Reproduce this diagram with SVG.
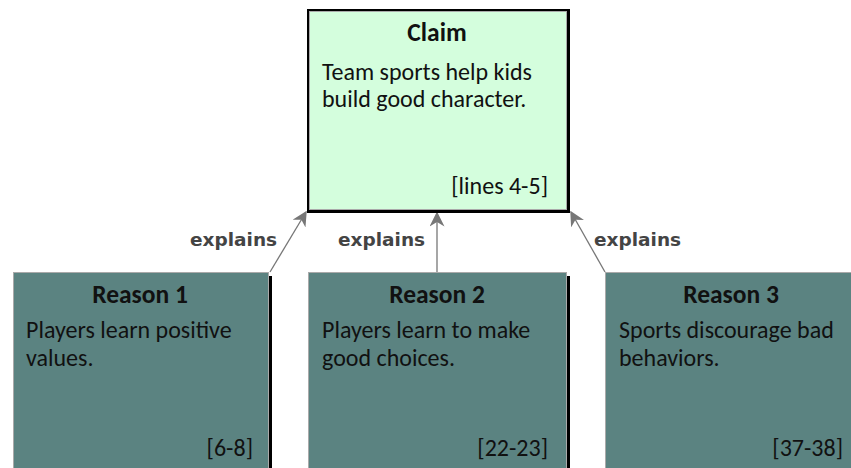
<svg xmlns="http://www.w3.org/2000/svg" width="851" height="468" viewBox="0 0 851 468">
<style>
.box{stroke:#aaa;stroke-width:1}
.shadow{fill:#000}
.claim{fill:#d4fedd}
.reason{fill:#5b8381}
.t{font-family:Calibri,Carlito,"Open Sans","Noto Sans",sans-serif;font-size:24px;fill:#111}
.h{font-weight:bold;text-anchor:middle;font-size:25.5px}
.r{text-anchor:end}
.lbl{font-family:Tahoma,"DejaVu Sans",sans-serif;font-size:18.5px;fill:#444;font-weight:bold}
.conn{stroke:#777;stroke-width:1.3;fill:none}
</style>
<defs>
<marker id="ah" viewBox="0 0 10 10" refX="9" refY="5" markerWidth="15" markerHeight="15" markerUnits="userSpaceOnUse" orient="auto">
<path d="M0,0 L10,5 L0,10 L3,5 Z" fill="#777"/>
</marker>
</defs>
<g id="connectors">
<line class="conn" x1="270" y1="272" x2="306" y2="212" marker-end="url(#ah)"/>
<line class="conn" x1="437" y1="272" x2="437" y2="213" marker-end="url(#ah)"/>
<line class="conn" x1="605" y1="272" x2="571" y2="212" marker-end="url(#ah)"/>
<text class="lbl" x="190" y="246">explains</text>
<text class="lbl" x="338" y="246">explains</text>
<text class="lbl" x="594" y="246">explains</text>
</g>
<g id="claim">
<rect class="shadow" x="307" y="9" width="263" height="204"/>
<rect class="box claim" x="309.5" y="11.5" width="257" height="198"/>
<text class="t h" x="437" y="41">Claim</text>
<text class="t" x="322" y="80">Team sports help kids</text>
<text class="t" x="322" y="107">build good character.</text>
<text class="t r" x="548" y="194">[lines 4-5]</text>
</g>
<g id="reason1">
<rect class="shadow" x="16" y="276" width="256" height="200"/>
<rect class="box reason" x="13.5" y="272.5" width="255" height="200"/>
<text class="t h" x="140" y="303">Reason 1</text>
<text class="t" x="26" y="338">Players learn positive</text>
<text class="t" x="26" y="366">values.</text>
<text class="t r" x="253" y="456">[6-8]</text>
</g>
<g id="reason2">
<rect class="shadow" x="311" y="276" width="259" height="200"/>
<rect class="box reason" x="308.5" y="272.5" width="258" height="200"/>
<text class="t h" x="437" y="303">Reason 2</text>
<text class="t" x="322" y="338">Players learn to make</text>
<text class="t" x="322" y="366">good choices.</text>
<text class="t r" x="548" y="456">[22-23]</text>
</g>
<g id="reason3">
<rect class="shadow" x="608" y="276" width="258" height="200"/>
<rect class="box reason" x="605.5" y="272.5" width="256" height="200"/>
<text class="t h" x="731" y="303">Reason 3</text>
<text class="t" x="619" y="338">Sports discourage bad</text>
<text class="t" x="619" y="366">behaviors.</text>
<text class="t r" x="843" y="456">[37-38]</text>
</g>
</svg>
